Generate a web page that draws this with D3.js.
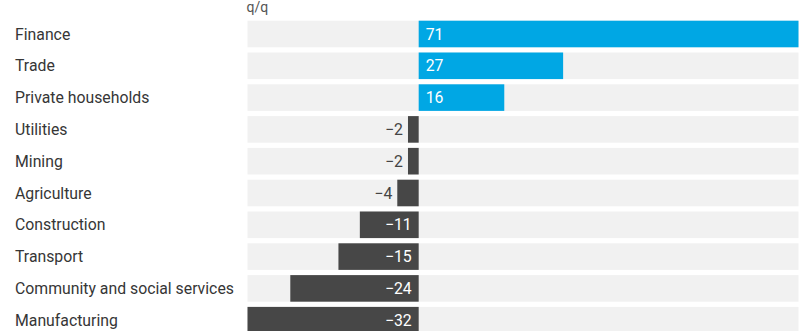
<!DOCTYPE html>
<html>
<head>
<meta charset="utf-8">
<script src="https://cdn.jsdelivr.net/npm/d3@7"></script>
<style>
  html, body { margin: 0; padding: 0; background: #fff; }
  svg { display: block; font-family: Roboto, "Noto Sans", sans-serif; }
</style>
</head>
<body>
<svg id="chart" width="802" height="331"></svg>
<script>
// Change in employment by sector, quarter on quarter
const sectors = [
  "Finance", "Trade", "Private households", "Utilities", "Mining",
  "Agriculture", "Construction", "Transport",
  "Community and social services", "Manufacturing"
];
const changes = [71, 27, 16, -2, -2, -4, -11, -15, -24, -32];
const unitLabel = "q/q";

const rows = sectors.map((s, i) => ({ sector: s, value: changes[i] }));

const svg = d3.select("#chart");
const rowStep = 31.8;
const firstRowY = 20.7;
const pad = 0.164;
const fontSize = 15.8;

const x = d3.scaleLinear().domain([-32, 71]).range([247.5, 798.5]);
const y = d3.scaleBand()
  .domain(sectors)
  .range([firstRowY, firstRowY + rowStep * (sectors.length - pad)])
  .paddingInner(pad)
  .paddingOuter(0);

// unit caption above the plot
svg.append("text")
  .attr("x", x.range()[0] - 1)
  .attr("y", 11.5)
  .attr("fill", "#555")
  .attr("font-size", 14)
  .text(unitLabel);

// category names on the left
svg.append("g").selectAll("text")
  .data(rows).join("text")
  .attr("x", 15)
  .attr("y", d => y(d.sector) + y.bandwidth() / 2)
  .attr("dy", "0.35em")
  .attr("fill", "#363636")
  .attr("font-size", fontSize)
  .text(d => d.sector);

// light track behind each bar
svg.append("g").selectAll("rect")
  .data(rows).join("rect")
  .attr("x", x.range()[0])
  .attr("width", x.range()[1] - x.range()[0])
  .attr("y", d => y(d.sector))
  .attr("height", y.bandwidth())
  .attr("fill", "#f1f1f1");

// bars from zero
svg.append("g").selectAll("rect")
  .data(rows).join("rect")
  .attr("x", d => x(Math.min(0, d.value)))
  .attr("width", d => Math.abs(x(d.value) - x(0)))
  .attr("y", d => y(d.sector))
  .attr("height", y.bandwidth())
  .attr("fill", d => d.value >= 0 ? "#00a7e4" : "#474747");

// value labels: inside the bar near zero, or outside when the bar is too short
const minInside = 40;
const fmt = v => v < 0 ? "\u2212" + Math.abs(v) : String(v);
svg.append("g").selectAll("text")
  .data(rows).join("text")
  .attr("font-size", fontSize)
  .attr("y", d => y(d.sector) + y.bandwidth() / 2)
  .attr("dy", "0.35em")
  .each(function (d) {
    const t = d3.select(this);
    const w = Math.abs(x(d.value) - x(0));
    if (d.value >= 0) {
      t.attr("x", x(0) + 7).attr("text-anchor", "start").attr("fill", "#fff");
    } else if (w >= minInside) {
      t.attr("x", x(0) - 7).attr("text-anchor", "end").attr("fill", "#fff");
    } else {
      t.attr("x", x(d.value) - 5).attr("text-anchor", "end").attr("fill", "#444");
    }
  })
  .text(d => fmt(d.value));
</script>
</body>
</html>
